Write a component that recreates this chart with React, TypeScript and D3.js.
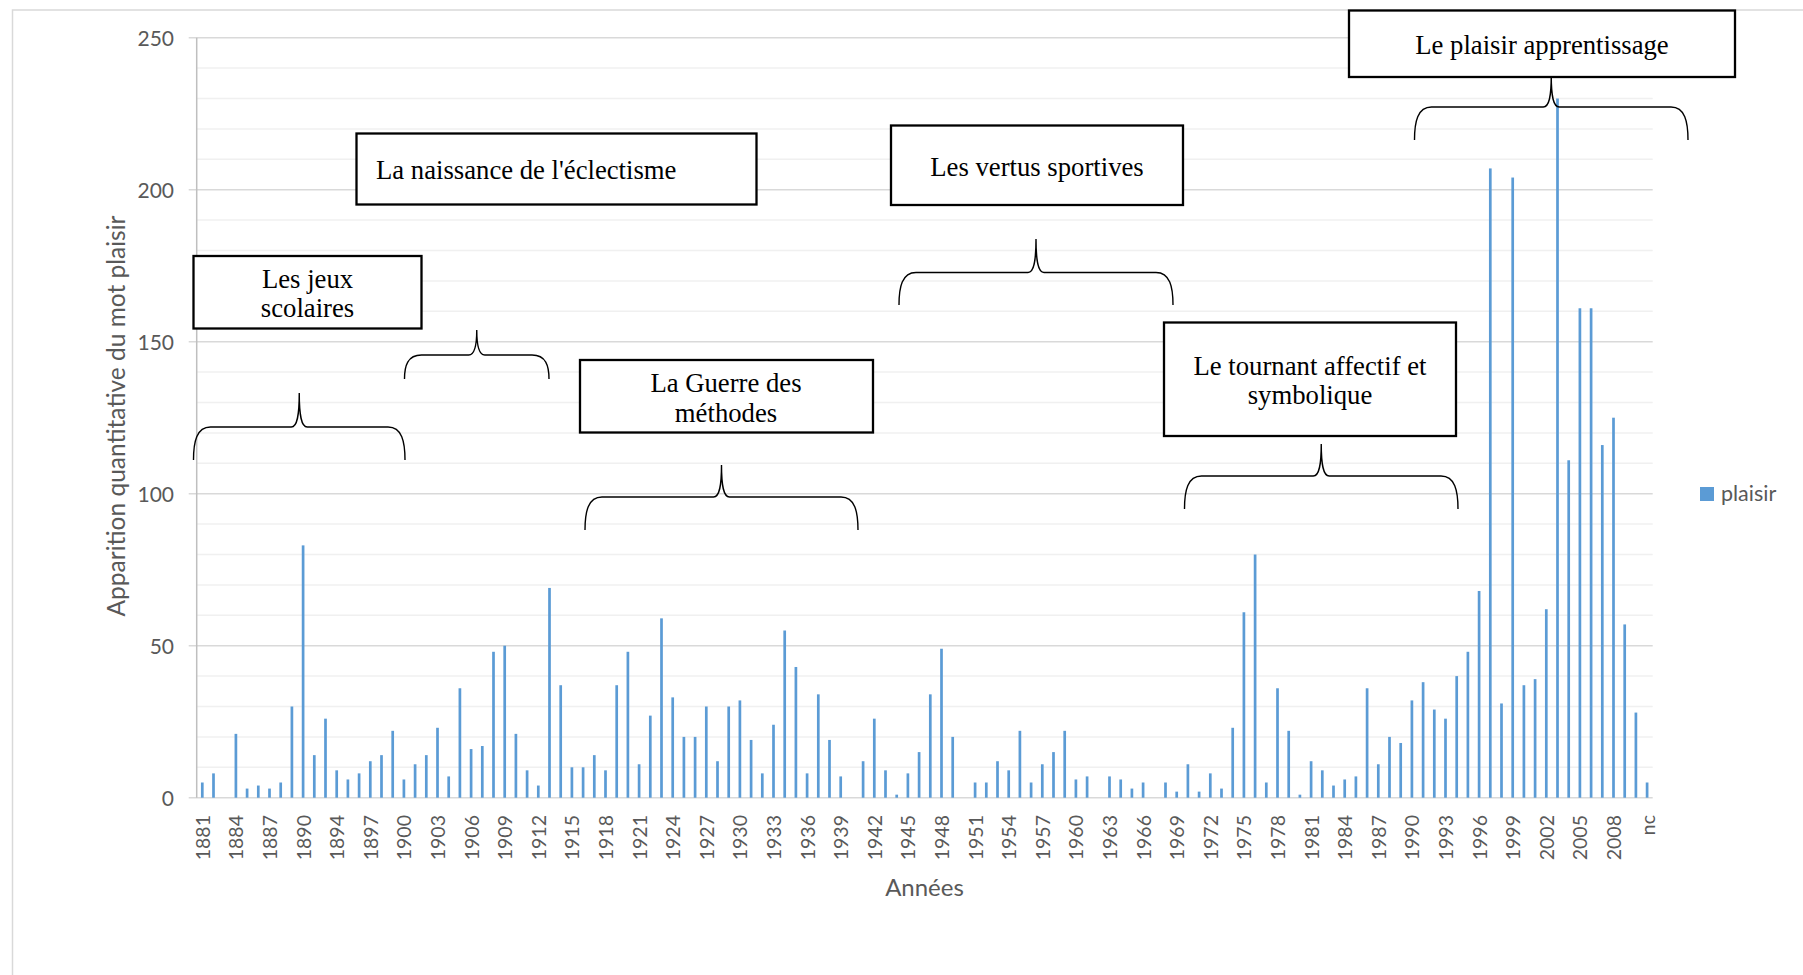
import React from "react";
import * as d3 from "d3";

// ---- Data ----
const years: string[] = [
  "1881","1882","1883","1884","1885","1886","1887","1888","1889","1890",
  "1891","1892","1894","1895","1896","1897","1898","1899","1900","1901",
  "1902","1903","1904","1905","1906","1907","1908","1909","1910","1911",
  "1912","1913","1914","1915","1916","1917","1918","1919","1920","1921",
  "1922","1923","1924","1925","1926","1927","1928","1929","1930","1931",
  "1932","1933","1934","1935","1936","1937","1938","1939","1940","1941",
  "1942","1943","1944","1945","1946","1947","1948","1949","1950","1951",
  "1952","1953","1954","1955","1956","1957","1958","1959","1960","1961",
  "1962","1963","1964","1965","1966","1967","1968","1969","1970","1971",
  "1972","1973","1974","1975","1976","1977","1978","1979","1980","1981",
  "1982","1983","1984","1985","1986","1987","1988","1989","1990","1991",
  "1992","1993","1994","1995","1996","1997","1998","1999","2000","2001",
  "2002","2003","2004","2005","2006","2007","2008","2009","2010","nc"
];

const plaisir: number[] = [
  5, 8, 0, 21, 3, 4, 3, 5, 30, 83,
  14, 26, 9, 6, 8, 12, 14, 22, 6, 11,
  14, 23, 7, 36, 16, 17, 48, 50, 21, 9,
  4, 69, 37, 10, 10, 14, 9, 37, 48, 11,
  27, 59, 33, 20, 20, 30, 12, 30, 32, 19,
  8, 24, 55, 43, 8, 34, 19, 7, 0, 12,
  26, 9, 1, 8, 15, 34, 49, 20, 0, 5,
  5, 12, 9, 22, 5, 11, 15, 22, 6, 7,
  0, 7, 6, 3, 5, 0, 5, 2, 11, 2,
  8, 3, 23, 61, 80, 5, 36, 22, 1, 12,
  9, 4, 6, 7, 36, 11, 20, 18, 32, 38,
  29, 26, 40, 48, 68, 207, 31, 204, 37, 39,
  62, 230, 111, 161, 161, 116, 125, 57, 28, 5
];

const yTicks: number[] = [0, 50, 100, 150, 200, 250];
const yMinorTicks: number[] = d3.range(0, 251, 10);

const seriesName = "plaisir";
const xTitle = "Années";
const yTitle = "Apparition quantitative du mot plaisir";

// ---- Annotations (text lines) ----
const boxTexts: string[][] = [
  ["Les jeux", "scolaires"],
  ["La naissance de l'éclectisme"],
  ["La Guerre des", "méthodes"],
  ["Les vertus sportives"],
  ["Le tournant affectif et", "symbolique"],
  ["Le plaisir apprentissage"],
];

// ---- Layout ----
const W = 1803;
const H = 975;
const plotLeft = 196.7;
const plotRight = 1652.7;
const plotTop = 37.7;
const plotBottom = 797.7;

const boxLayout = [
  { x: 193.5, y: 256, w: 228, h: 72.5, tx: 307.5, align: "middle", baselines: [288, 317] },
  { x: 356.5, y: 133.5, w: 400, h: 71, tx: 376, align: "start", baselines: [179] },
  { x: 580, y: 360, w: 293, h: 72.5, tx: 726, align: "middle", baselines: [392, 422] },
  { x: 891, y: 125.5, w: 292, h: 79.5, tx: 1037, align: "middle", baselines: [176] },
  { x: 1164, y: 322.5, w: 292, h: 113.5, tx: 1310, align: "middle", baselines: [375, 404] },
  { x: 1349, y: 10.5, w: 386, h: 66.5, tx: 1542, align: "middle", baselines: [54] },
];

const braceLayout = [
  { x0: 193.5, x1: 405, yP: 393, yH: 427, yE: 460 },
  { x0: 404.5, x1: 549, yP: 330, yH: 355, yE: 379 },
  { x0: 585, x1: 858, yP: 465, yH: 497, yE: 530 },
  { x0: 899, x1: 1173, yP: 239, yH: 272.5, yE: 305 },
  { x0: 1184.5, x1: 1458, yP: 444, yH: 476, yE: 509 },
  { x0: 1414.5, x1: 1688, yP: 76, yH: 107, yE: 140 },
];

function bracePath(b: { x0: number; x1: number; yP: number; yH: number; yE: number }) {
  const xm = (b.x0 + b.x1) / 2;
  const { x0, x1, yP, yH, yE } = b;
  const dh = yH - yP;
  return [
    `M${x0},${yE}`,
    `C${x0},${yE - (yE - yH) * 0.55} ${x0 + 3},${yH} ${x0 + 17},${yH}`,
    `L${xm - 8},${yH}`,
    `C${xm - 2},${yH} ${xm},${yH - dh * 0.35} ${xm},${yP}`,
    `C${xm},${yH - dh * 0.35} ${xm + 2},${yH} ${xm + 8},${yH}`,
    `L${x1 - 17},${yH}`,
    `C${x1 - 3},${yH} ${x1},${yE - (yE - yH) * 0.55} ${x1},${yE}`,
  ].join(" ");
}

export default function App() {
  const x = d3.scaleBand<string>().domain(years).range([plotLeft, plotRight]).padding(0);
  const y = d3.scaleLinear().domain([0, 250]).range([plotBottom, plotTop]);
  const barW = 2.7;
  const labelFont = "Lato, 'Open Sans', sans-serif";
  const serif = "'Liberation Serif', 'Times New Roman', serif";
  const textColor = "#595959";

  return (
    <svg
      width={W}
      height={H}
      style={{ position: "absolute", left: 0, top: 0, display: "block", background: "#fff" }}
    >
      <rect x={12.5} y={10} width={2000} height={2000} fill="#fff" stroke="#d9d9d9" strokeWidth={1.5} />

      {/* minor gridlines */}
      {yMinorTicks.filter((t) => t % 50 !== 0).map((t) => (
        <line key={"m" + t} x1={plotLeft} x2={plotRight} y1={y(t)} y2={y(t)} stroke="#f0f0f0" strokeWidth={1.5} />
      ))}
      {/* major gridlines */}
      {yTicks.map((t) => (
        <line key={"g" + t} x1={plotLeft - 8} x2={plotRight} y1={y(t)} y2={y(t)} stroke="#d9d9d9" strokeWidth={1.5} />
      ))}
      {/* y axis line */}
      <line x1={plotLeft} x2={plotLeft} y1={plotTop} y2={plotBottom} stroke="#bfbfbf" strokeWidth={1.5} />

      {/* y tick labels */}
      {yTicks.map((t) => (
        <text
          key={"yt" + t}
          x={174}
          y={y(t)}
          textAnchor="end"
          dominantBaseline="central"
          fontFamily={labelFont}
          fontSize={21}
          fill={textColor}
        >
          {t}
        </text>
      ))}

      {/* bars */}
      {years.map((yr, i) => (
        <rect
          key={"b" + yr}
          x={(x(yr) as number) + x.bandwidth() / 2 - barW / 2}
          y={y(plaisir[i])}
          width={barW}
          height={plotBottom - y(plaisir[i])}
          fill="#5B9BD5"
        />
      ))}

      {/* x tick labels */}
      {years.map((yr, i) =>
        i % 3 === 0 ? (
          <text
            key={"xt" + yr}
            transform={`translate(${(x(yr) as number) + x.bandwidth() / 2},815) rotate(-90)`}
            textAnchor="end"
            dominantBaseline="central"
            fontFamily={labelFont}
            fontSize={19.5}
            fill={textColor}
          >
            {yr}
          </text>
        ) : null
      )}

      {/* axis titles */}
      <text x={924.5} y={896} textAnchor="middle" fontFamily={labelFont} fontSize={24} fill={textColor}>
        {xTitle}
      </text>
      <text
        transform={`translate(115,416) rotate(-90)`}
        textAnchor="middle"
        dominantBaseline="central"
        fontFamily={labelFont}
        fontSize={24.5}
        fill={textColor}
      >
        {yTitle}
      </text>

      {/* legend */}
      <rect x={1700} y={487} width={14} height={14} fill="#5B9BD5" />
      <text x={1721} y={500.5} fontFamily={labelFont} fontSize={21.5} fill={textColor}>
        {seriesName}
      </text>

      {/* braces */}
      {braceLayout.map((b, i) => (
        <path key={"br" + i} d={bracePath(b)} fill="none" stroke="#000" strokeWidth={1.4} />
      ))}

      {/* boxes */}
      {boxLayout.map((b, i) => (
        <g key={"box" + i}>
          <rect x={b.x} y={b.y} width={b.w} height={b.h} fill="#fff" stroke="#000" strokeWidth={2.3} />
          {boxTexts[i].map((line, j) => (
            <text
              key={j}
              x={b.tx}
              y={b.baselines[j]}
              textAnchor={b.align as any}
              fontFamily={serif}
              fontSize={26.7}
              fill="#000"
            >
              {line}
            </text>
          ))}
        </g>
      ))}
    </svg>
  );
}
